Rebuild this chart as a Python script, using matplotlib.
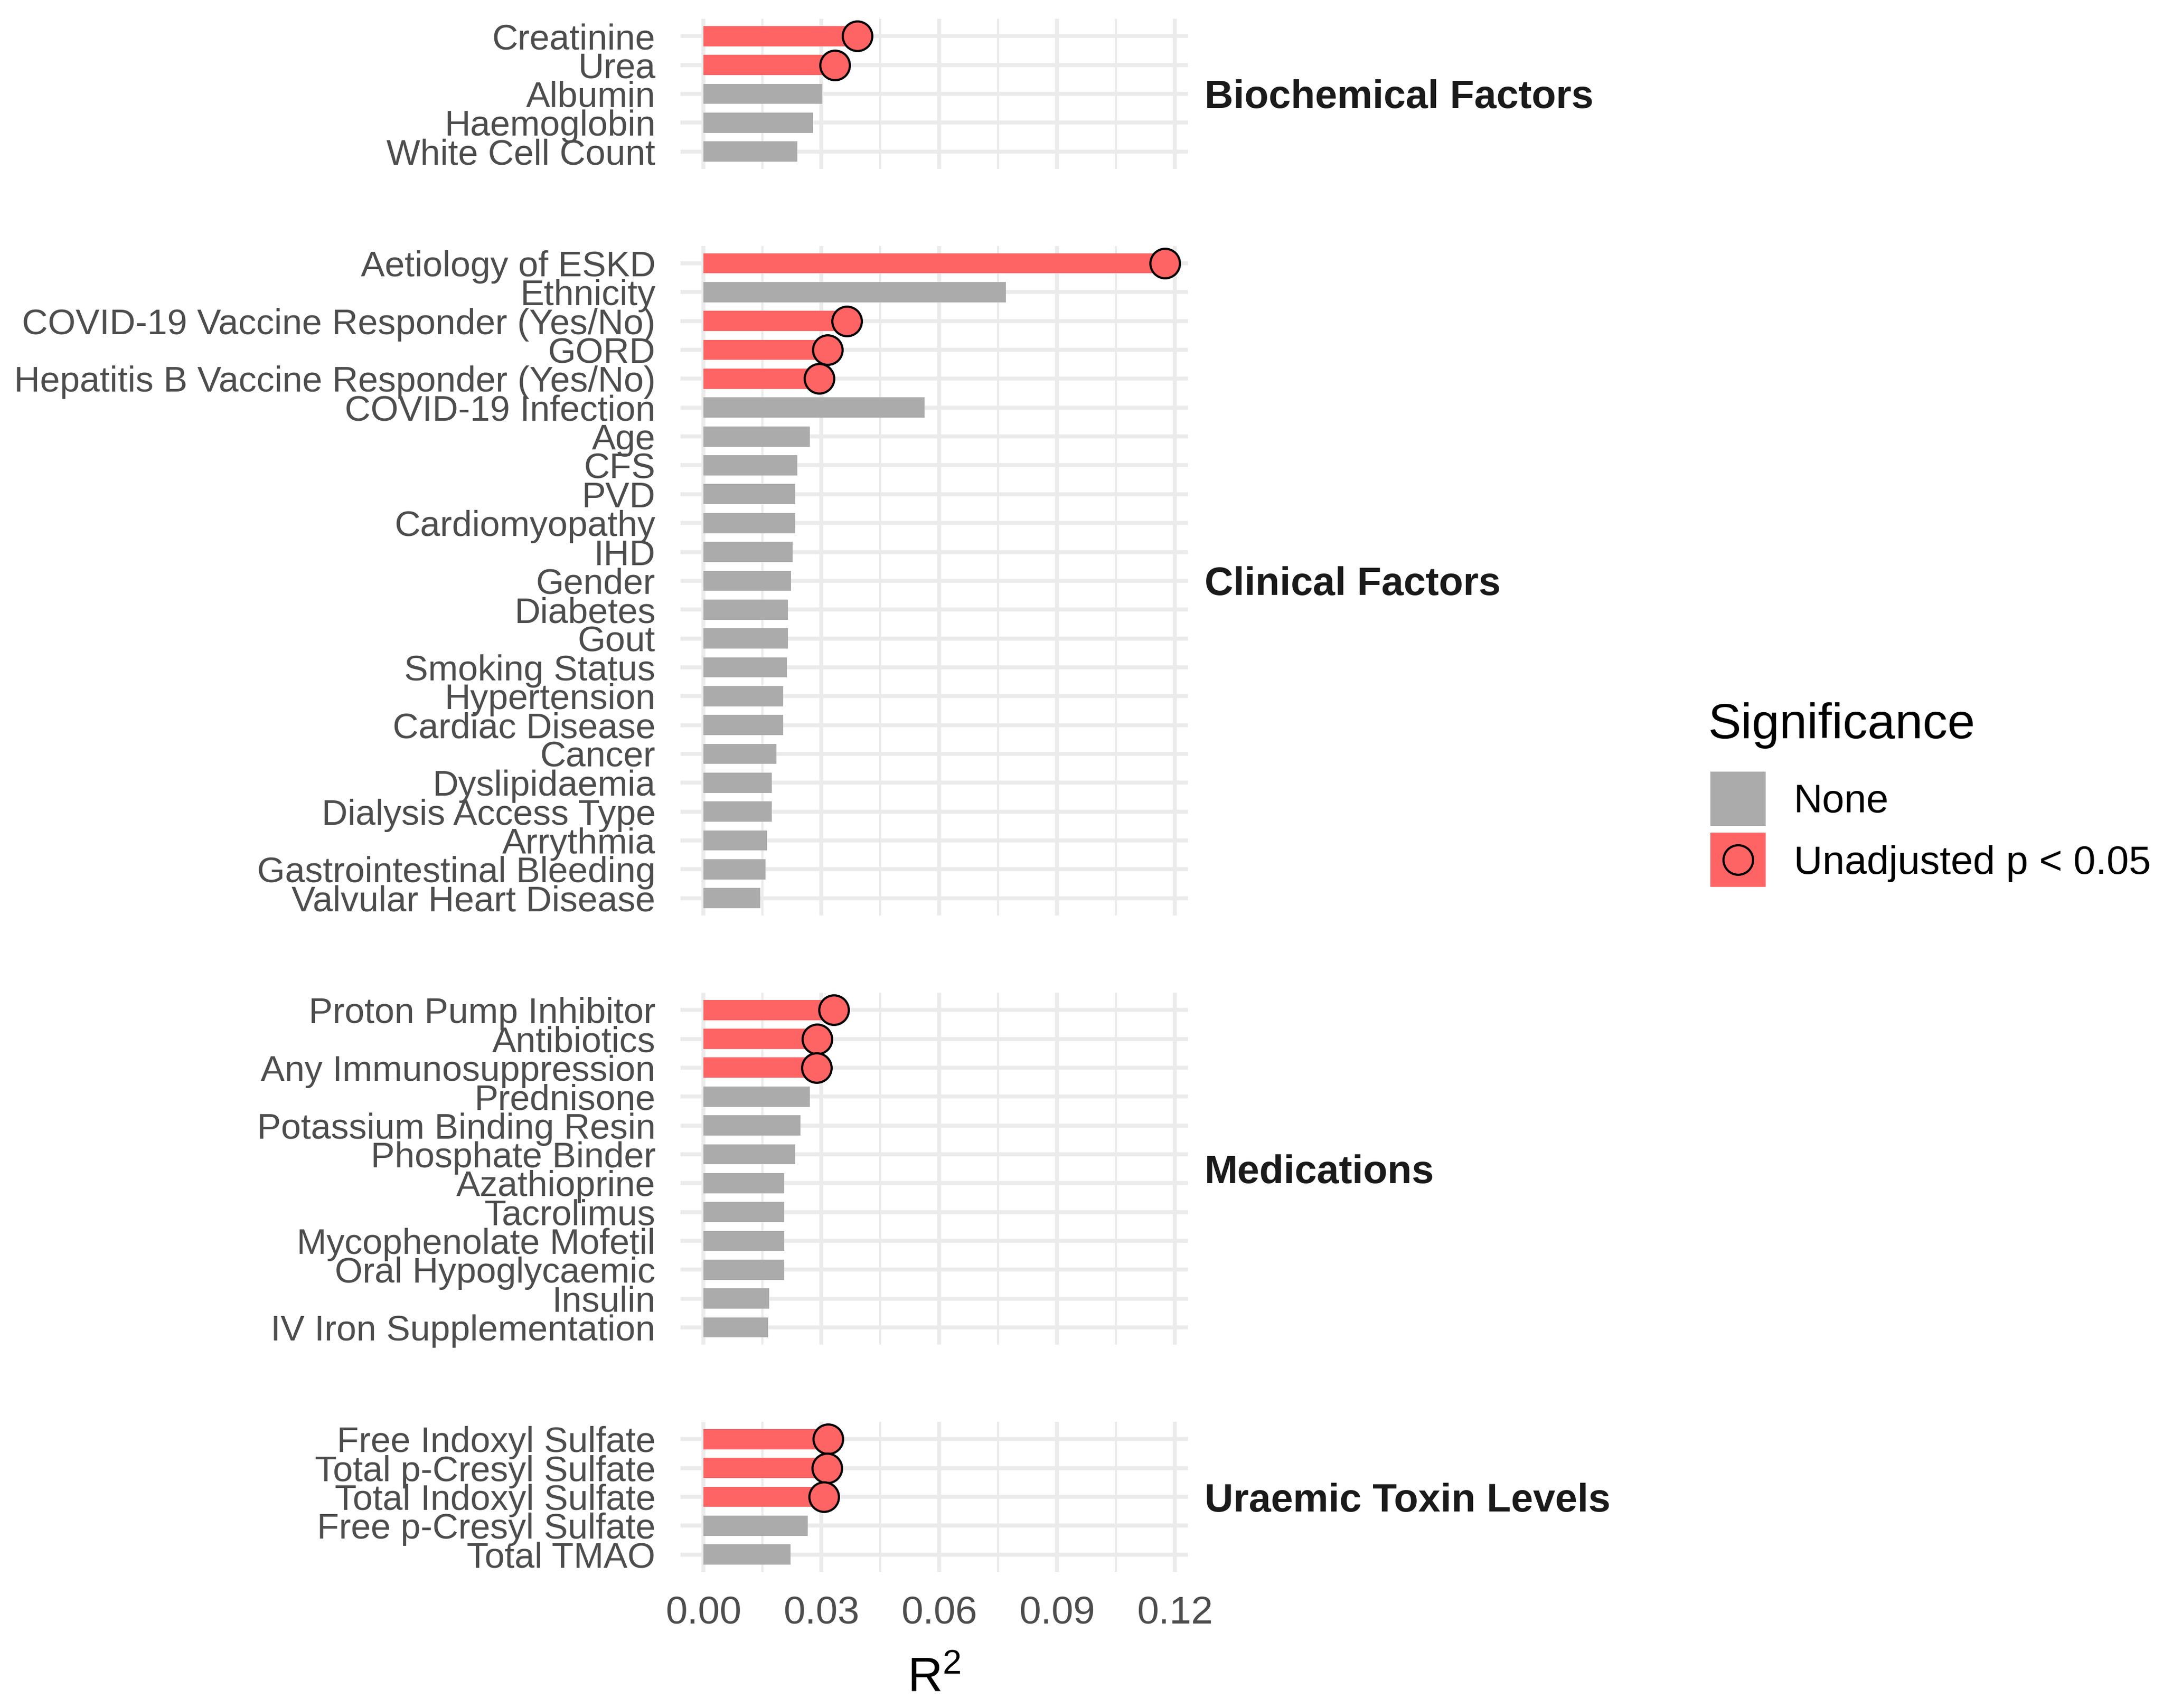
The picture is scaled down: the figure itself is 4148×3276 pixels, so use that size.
import numpy as np
import matplotlib.pyplot as plt
from matplotlib.patches import Rectangle

plt.rcParams['font.family'] = ['Liberation Sans', 'DejaVu Sans']
plt.rcParams['mathtext.fontset'] = 'custom'
plt.rcParams['mathtext.rm'] = 'Liberation Sans'
plt.rcParams['mathtext.it'] = 'Liberation Sans:italic'

# ---- data ----
groups = ["Biochemical Factors", "Clinical Factors", "Medications", "Uraemic Toxin Levels"]

biochem_names = ["Creatinine", "Urea", "Albumin", "Haemoglobin", "White Cell Count"]
biochem_r2 = [0.0391, 0.0334, 0.0302, 0.0278, 0.0239]
biochem_sig = [1, 1, 0, 0, 0]

clinical_names = ["Aetiology of ESKD", "Ethnicity", "COVID-19 Vaccine Responder (Yes/No)", "GORD",
                  "Hepatitis B Vaccine Responder (Yes/No)", "COVID-19 Infection", "Age", "CFS", "PVD",
                  "Cardiomyopathy", "IHD", "Gender", "Diabetes", "Gout", "Smoking Status", "Hypertension",
                  "Cardiac Disease", "Cancer", "Dyslipidaemia", "Dialysis Access Type", "Arrythmia",
                  "Gastrointestinal Bleeding", "Valvular Heart Disease"]
clinical_r2 = [0.1174, 0.0769, 0.0364, 0.0315, 0.0294, 0.0563, 0.0270, 0.0239, 0.0233,
               0.0233, 0.0226, 0.0222, 0.0215, 0.0215, 0.0212, 0.0202, 0.0202, 0.0185,
               0.0174, 0.0174, 0.0161, 0.0157, 0.0144]
clinical_sig = [1, 0, 1, 1, 1, 0, 0, 0, 0, 0, 0, 0, 0, 0, 0, 0, 0, 0, 0, 0, 0, 0, 0]

med_names = ["Proton Pump Inhibitor", "Antibiotics", "Any Immunosuppression", "Prednisone",
             "Potassium Binding Resin", "Phosphate Binder", "Azathioprine", "Tacrolimus",
             "Mycophenolate Mofetil", "Oral Hypoglycaemic", "Insulin", "IV Iron Supplementation"]
med_r2 = [0.0331, 0.0289, 0.0287, 0.0270, 0.0246, 0.0233, 0.0205, 0.0205, 0.0205, 0.0205,
          0.0167, 0.0164]
med_sig = [1, 1, 1, 0, 0, 0, 0, 0, 0, 0, 0, 0]

toxin_names = ["Free Indoxyl Sulfate", "Total p-Cresyl Sulfate", "Total Indoxyl Sulfate",
               "Free p-Cresyl Sulfate", "Total TMAO"]
toxin_r2 = [0.0317, 0.0314, 0.0306, 0.0265, 0.0221]
toxin_sig = [1, 1, 1, 0, 0]

sig_levels = ["None", "Unadjusted p < 0.05"]
x_ticks = [0.00, 0.03, 0.06, 0.09, 0.12]
x_tick_labels = ["0.00", "0.03", "0.06", "0.09", "0.12"]

panels = [
    (biochem_names, biochem_r2, biochem_sig),
    (clinical_names, clinical_r2, clinical_sig),
    (med_names, med_r2, med_sig),
    (toxin_names, toxin_r2, toxin_sig),
]

GREY = "#ABABAB"
RED = "#FF6464"
GRID = "#EBEBEB"
PT_SIZE = 185

# ---- layout in pixels ----
W, H = 4148, 3276
fig = plt.figure(figsize=(W / 300, H / 300), dpi=300)

top_px = 36
unit_px = 55.35
gap_px = 148
left_px, right_px = 1305, 2278

y_px = top_px
for i, (group, (names, vals, sig)) in enumerate(zip(groups, panels)):
    n = len(names)
    h_px = (n + 0.2) * unit_px
    ax = fig.add_axes([left_px / W, 1 - (y_px + h_px) / H,
                       (right_px - left_px) / W, h_px / H])
    y_px += h_px + gap_px

    y = np.arange(n)[::-1]
    vals = np.array(vals)
    sig = np.array(sig, dtype=bool)
    colors = [RED if s else GREY for s in sig]

    ax.barh(y, vals, height=0.7, color=colors, zorder=2)
    ax.scatter(vals[sig], y[sig], s=PT_SIZE, facecolor=RED, edgecolor="black",
               linewidth=1.0, zorder=3, clip_on=False)

    ax.set_xlim(-0.0059, 0.1233)
    ax.set_ylim(-0.6, n - 0.4)
    ax.set_xticks(x_ticks)
    ax.set_xticks([0.015, 0.045, 0.075, 0.105], minor=True)
    ax.set_yticks(y)
    ax.set_yticklabels(names)
    ax.grid(which="major", color=GRID, linewidth=1.8, zorder=0)
    ax.grid(which="minor", axis="x", color=GRID, linewidth=1.0, zorder=0)
    ax.set_axisbelow(True)
    for s in ax.spines.values():
        s.set_visible(False)
    ax.tick_params(which="both", length=0)
    ax.tick_params(axis="y", pad=11.5, labelsize=16.5, labelcolor="#4D4D4D")
    if i == len(groups) - 1:
        ax.set_xticklabels(x_tick_labels)
        ax.tick_params(axis="x", pad=10.8, labelsize=18, labelcolor="#4D4D4D")
    else:
        ax.tick_params(axis="x", labelbottom=False)

    ax.text(1.0 + 32 / (right_px - left_px), 0.5, group, transform=ax.transAxes,
            ha="left", va="center_baseline", fontsize=18.3, fontweight="bold",
            color="#1A1A1A")

# x axis title
fig.text((left_px + right_px) / 2 / W, 1 - 3245 / H, r"R$^2$", ha="center",
         va="baseline", fontsize=22.3, color="black")

# ---- legend drawn in pixel coordinates ----
lax = fig.add_axes([0, 0, 1, 1])
lax.set_xlim(0, W)
lax.set_ylim(H, 0)
lax.axis("off")
lax.text(3276, 1416, "Significance", fontsize=22.8, va="baseline", ha="left")
key_tops = [1480, 1597]
label_base = [1558, 1676]
for lev, kt, lb in zip(sig_levels, key_tops, label_base):
    face = RED if lev != "None" else GREY
    lax.add_patch(Rectangle((3280, kt), 106, 104, facecolor=face, edgecolor="none"))
    if lev != "None":
        lax.scatter([3333], [kt + 52], s=PT_SIZE, facecolor=RED, edgecolor="black",
                    linewidth=1.0, zorder=3)
    lax.text(3440, lb, lev, fontsize=18.3, va="baseline", ha="left")

fig.savefig("out.png", dpi=300)
